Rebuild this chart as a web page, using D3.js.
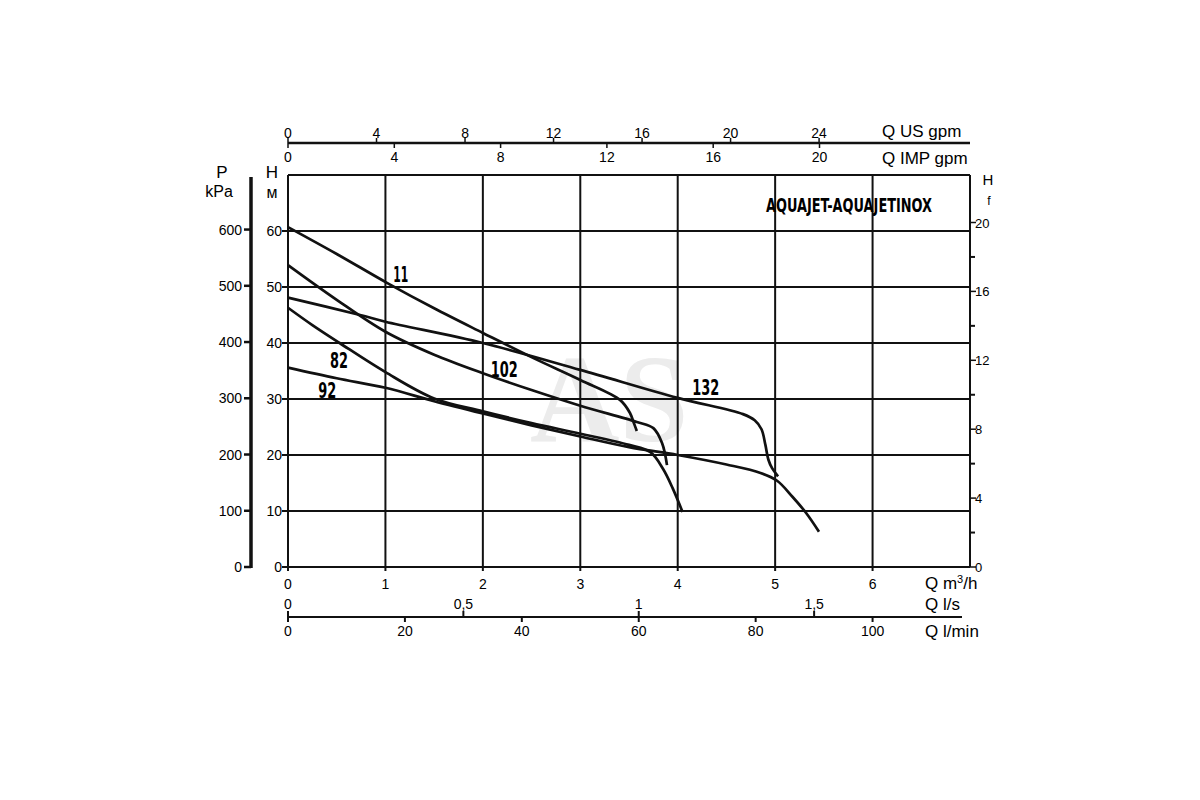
<!DOCTYPE html>
<html>
<head>
<meta charset="utf-8">
<script src="https://cdn.jsdelivr.net/npm/d3@7"></script>
<style>
  html, body { margin: 0; padding: 0; background: #fff; }
  svg { display: block; }
  text { font-family: "Liberation Sans", Arial, sans-serif; fill: #000; }
  .cond { font-family: "Liberation Sans Narrow", "DejaVu Sans Condensed", sans-serif; font-weight: bold; }
</style>
</head>
<body>
<svg id="chart" width="1200" height="800"></svg>
<script>
// ---------- DATA (Q in m3/h, H in m) ----------
const curve11  = [[0,60.7],[0.5,55.9],[1.02,50.7],[1.5,46.2],[2,41.8],[2.52,37.3],[3,33.4],[3.41,29.8],[3.51,27.5],[3.55,25.7],[3.58,24.3]];
const curve102 = [[0,53.9],[0.5,47.7],[1,42],[1.5,37.9],[2,34.6],[2.5,31.6],[3,28.8],[3.58,25.9],[3.75,24.8],[3.84,22.1],[3.89,18.2]];
const curve132 = [[0,48.1],[0.74,45],[1,43.8],[2,40],[3,35.2],[4,30.2],[4.67,27.3],[4.79,26.2],[4.86,24.6],[4.9,21.8],[4.93,19.2],[4.97,17.6],[5.03,16.2]];
const curve82  = [[0,46.3],[0.25,43.2],[0.53,40],[1,34.8],[1.5,30.1],[2,27.8],[2.5,25.7],[3,23.8],[3.5,21.8],[3.72,20.5],[3.85,17.5],[3.95,14],[4.05,9.8]];
const curve92  = [[0,35.6],[0.5,33.7],[1,32],[1.5,29.6],[2,27.4],[2.5,25.3],[3,23.3],[3.5,21.4],[4,20],[4.5,18.3],[4.85,16.8],[5.02,15.4],[5.18,12.5],[5.32,9.6],[5.45,6.3]];
const curveNames = ["11","102","132","82","92"];
const curveLabelPos = [[1.08,50.9],[2.08,33.9],[4.15,30.7],[0.43,35.5],[0.31,30.2]]; // [Q,H] of label baseline start

const flowTicks   = [0,1,2,3,4,5,6];        // m3/h
const headTicks   = [0,10,20,30,40,50,60];  // m
const pressTicks  = [0,100,200,300,400,500,600]; // kPa
const feetTicks   = [0,4,8,12,16,20];
const feetMinor   = [2,6,10,14,18];
const usGpmTicks  = [0,4,8,12,16,20,24];
const impGpmTicks = [0,4,8,12,16,20];
const lsTicks     = [0,0.5,1,1.5];
const lminTicks   = [0,20,40,60,80,100];
const title = "AQUAJET-AQUAJETINOX";

// ---------- SCALES ----------
const svg = d3.select("#chart");
const X0 = 288, X1 = 970, Y0 = 567, Y1 = 175;
const x = d3.scaleLinear().domain([0,7]).range([X0,X1]);
const y = d3.scaleLinear().domain([0,70]).range([Y0,Y1]);
const yP = d3.scaleLinear().domain([0,697]).range([Y0,Y1]);
const yF = d3.scaleLinear().domain([0,20]).range([Y0,222.5]);
const xUS = d3.scaleLinear().domain([0,7/0.227125]).range([X0,X1]);
const xIMP = d3.scaleLinear().domain([0,7/0.272765]).range([X0,X1]);
const xLS = d3.scaleLinear().domain([0,7/3.6]).range([X0,X1]);
const xLM = d3.scaleLinear().domain([0,7/0.06]).range([X0,X1]);

const fmt = d => String(d).replace(".", ",");

// watermark
svg.append("text").attr("x",530).attr("y",441)
  .style("font-family","Liberation Serif, serif").style("font-weight","bold").style("font-size","124px")
  .style("fill","#ececec").text("AS");

// ---------- GRID ----------
const grid = svg.append("g").attr("stroke","#111").attr("stroke-width",2);
grid.selectAll(".h").data(headTicks.concat([70])).join("line")
  .attr("x1",X0).attr("x2",X1).attr("y1",d=>y(d)).attr("y2",d=>y(d));
grid.selectAll(".v").data([0,1,2,3,4,5,6,7]).join("line")
  .attr("x1",d=>x(d)).attr("x2",d=>x(d)).attr("y1",Y1).attr("y2",Y0);

// ---------- LEFT H axis ----------
const gH = svg.append("g");
gH.selectAll("line").data(headTicks).join("line")
  .attr("x1",X0-6).attr("x2",X0).attr("y1",d=>y(d)).attr("y2",d=>y(d))
  .attr("stroke","#111").attr("stroke-width",2);
gH.selectAll("text").data(headTicks).join("text")
  .attr("x",X0-6).attr("y",d=>y(d)+5).attr("text-anchor","end")
  .style("font-size","14px").text(d=>d);
svg.append("text").attr("x",272).attr("y",178).attr("text-anchor","middle").style("font-size","17px").text("H");
svg.append("text").attr("x",272).attr("y",198).attr("text-anchor","middle").style("font-size","16px").text("м");

// ---------- P axis ----------
const gP = svg.append("g");
gP.append("line").attr("x1",251).attr("x2",251).attr("y1",177).attr("y2",yP(0)+1)
  .attr("stroke","#111").attr("stroke-width",3.5);
gP.selectAll("line.t").data(pressTicks).join("line").attr("class","t")
  .attr("x1",244).attr("x2",251).attr("y1",d=>yP(d)).attr("y2",d=>yP(d))
  .attr("stroke","#111").attr("stroke-width",2.5);
gP.selectAll("text").data(pressTicks).join("text")
  .attr("x",242).attr("y",d=>yP(d)+5).attr("text-anchor","end")
  .style("font-size","14px").text(d=>d);
svg.append("text").attr("x",222).attr("y",178).attr("text-anchor","middle").style("font-size","17px").text("P");
svg.append("text").attr("x",219).attr("y",197).attr("text-anchor","middle").style("font-size","16px").text("kPa");

// ---------- Right f axis ----------
const gF = svg.append("g");
gF.selectAll("line.M").data(feetTicks).join("line").attr("class","M")
  .attr("x1",X1).attr("x2",X1+6).attr("y1",d=>yF(d)).attr("y2",d=>yF(d))
  .attr("stroke","#111").attr("stroke-width",1.5);
gF.selectAll("line.m").data(feetMinor).join("line").attr("class","m")
  .attr("x1",X1).attr("x2",X1+5).attr("y1",d=>yF(d)).attr("y2",d=>yF(d))
  .attr("stroke","#111").attr("stroke-width",2);
gF.selectAll("text").data(feetTicks).join("text")
  .attr("x",X1+5).attr("y",d=>yF(d)+5).style("font-size","13px").text(d=>d);
svg.append("text").attr("x",988).attr("y",185).attr("text-anchor","middle").style("font-size","15px").text("H");
svg.append("text").attr("x",989).attr("y",205).attr("text-anchor","middle").style("font-size","12px").text("f");

// ---------- Bottom m3/h ----------
const gQ = svg.append("g");
gQ.selectAll("line").data(flowTicks).join("line")
  .attr("x1",d=>x(d)).attr("x2",d=>x(d)).attr("y1",Y0).attr("y2",Y0+4)
  .attr("stroke","#111").attr("stroke-width",2);
gQ.selectAll("text").data(flowTicks).join("text")
  .attr("x",d=>x(d)).attr("y",589).attr("text-anchor","middle")
  .style("font-size","14px").text(d=>d);
const qm = svg.append("text").attr("x",925).attr("y",589).style("font-size","17px");
qm.append("tspan").text("Q m");
qm.append("tspan").attr("dy",-6).style("font-size","11px").text("3");
qm.append("tspan").attr("dy",6).text("/h");

// ---------- Bottom l/s & l/min ----------
const yLS = 617;
svg.append("line").attr("x1",X0).attr("x2",962).attr("y1",yLS).attr("y2",yLS)
  .attr("stroke","#111").attr("stroke-width",2);
svg.selectAll("line.ls").data(lsTicks).join("line").attr("class","ls")
  .attr("x1",d=>xLS(d)).attr("x2",d=>xLS(d)).attr("y1",yLS-6).attr("y2",yLS)
  .attr("stroke","#111").attr("stroke-width",2);
svg.selectAll("text.ls").data(lsTicks).join("text").attr("class","ls")
  .attr("x",d=>xLS(d)).attr("y",609).attr("text-anchor","middle")
  .style("font-size","14px").text(fmt);
svg.selectAll("line.lm").data(lminTicks).join("line").attr("class","lm")
  .attr("x1",d=>xLM(d)).attr("x2",d=>xLM(d)).attr("y1",yLS).attr("y2",yLS+5)
  .attr("stroke","#111").attr("stroke-width",2);
svg.selectAll("text.lm").data(lminTicks).join("text").attr("class","lm")
  .attr("x",d=>xLM(d)).attr("y",636).attr("text-anchor","middle")
  .style("font-size","14px").text(d=>d);
svg.append("text").attr("x",925).attr("y",610).style("font-size","17px").text("Q l/s");
svg.append("text").attr("x",925).attr("y",637).style("font-size","17px").text("Q l/min");

// ---------- Top US gpm & IMP gpm ----------
const yTop = 143;
svg.append("line").attr("x1",X0).attr("x2",X1).attr("y1",yTop).attr("y2",yTop)
  .attr("stroke","#111").attr("stroke-width",2.5);
svg.selectAll("line.us").data(usGpmTicks).join("line").attr("class","us")
  .attr("x1",d=>xUS(d)).attr("x2",d=>xUS(d)).attr("y1",yTop-5).attr("y2",yTop)
  .attr("stroke","#111").attr("stroke-width",1.5);
svg.selectAll("text.us").data(usGpmTicks).join("text").attr("class","us")
  .attr("x",d=>xUS(d)).attr("y",138).attr("text-anchor","middle")
  .style("font-size","14px").text(d=>d);
svg.selectAll("line.imp").data(impGpmTicks).join("line").attr("class","imp")
  .attr("x1",d=>xIMP(d)).attr("x2",d=>xIMP(d)).attr("y1",yTop).attr("y2",yTop+5)
  .attr("stroke","#111").attr("stroke-width",1.5);
svg.selectAll("text.imp").data(impGpmTicks).join("text").attr("class","imp")
  .attr("x",d=>xIMP(d)).attr("y",162).attr("text-anchor","middle")
  .style("font-size","14px").text(d=>d);
svg.append("text").attr("x",882).attr("y",137).style("font-size","17px").text("Q US gpm");
svg.append("text").attr("x",882).attr("y",164).style("font-size","17px").text("Q IMP gpm");

// ---------- Title ----------
svg.append("text").attr("class","cond").attr("x",766).attr("y",212)
  .attr("textLength",166).attr("lengthAdjust","spacingAndGlyphs")
  .style("font-size","20px").text(title);

// ---------- Curves ----------
const line = d3.line().x(d=>x(d[0])).y(d=>y(d[1])).curve(d3.curveCatmullRom.alpha(0.5));
const curves = [curve11, curve102, curve132, curve82, curve92];
svg.append("g").selectAll("path").data(curves).join("path")
  .attr("d", line).attr("fill","none").attr("stroke","#111").attr("stroke-width",2.7)
  .attr("stroke-linejoin","round");

const labelW = {"11":15,"102":27,"132":27,"82":18,"92":18};
svg.append("g").selectAll("text").data(curveNames).join("text").attr("class","cond")
  .attr("x",(d,i)=>x(curveLabelPos[i][0])).attr("y",(d,i)=>y(curveLabelPos[i][1]))
  .attr("textLength",d=>labelW[d]).attr("lengthAdjust","spacingAndGlyphs")
  .style("font-size","22px").text(d=>d);
</script>
</body>
</html>
